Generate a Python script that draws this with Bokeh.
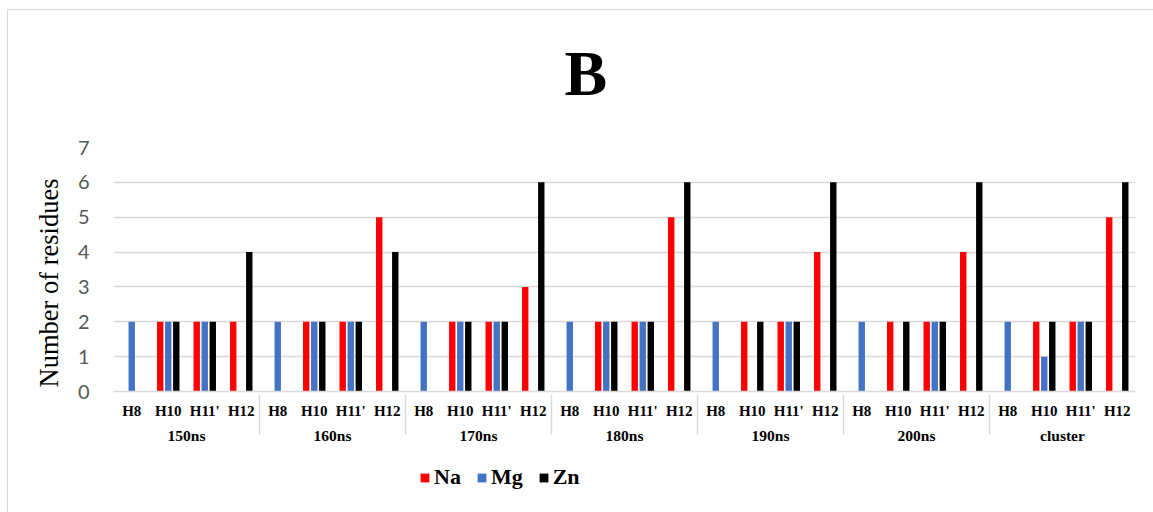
from bokeh.plotting import figure
from bokeh.layouts import column
from bokeh.models import (ColumnDataSource, FactorRange, Legend, LegendItem,
                          Title, InlineStyleSheet)
from bokeh.transform import dodge
from bokeh.embed import file_html
from bokeh.resources import INLINE

# Simulation snapshots and the helices examined in each
times = ["150ns", "160ns", "170ns", "180ns", "190ns", "200ns", "cluster"]
helices = ["H8", "H10", "H11'", "H12"]

# Number of residues per helix for each ion (ordered snapshot by snapshot)
na = [0, 2, 2, 2,  0, 2, 2, 5,  0, 2, 2, 3,  0, 2, 2, 5,  0, 2, 2, 4,  0, 2, 2, 4,  0, 2, 2, 5]
mg = [2, 2, 2, 0,  2, 2, 2, 0,  2, 2, 2, 0,  2, 2, 2, 0,  2, 0, 2, 0,  2, 0, 2, 0,  2, 1, 2, 0]
zn = [0, 2, 2, 4,  0, 2, 2, 4,  0, 2, 2, 6,  0, 2, 2, 6,  0, 2, 2, 6,  0, 2, 2, 6,  0, 2, 2, 6]

series = ["Na", "Mg", "Zn"]
colors = ["#ff0000", "#4472c4", "#000000"]

factors = [(t, h) for t in times for h in helices]
source = ColumnDataSource(data=dict(x=factors, Na=na, Mg=mg, Zn=zn))

SERIF = "Liberation Serif"

# Light frame around the chart area (left/top edges visible)
top_css = InlineStyleSheet(css="""
:host { overflow: hidden; }
:host::after {
  content: ""; position: absolute; left: 7px; top: 9px;
  width: 1300px; height: 800px;
  border: 1.5px solid #d9d9d9; pointer-events: none; z-index: 10;
}
""")
bottom_css = InlineStyleSheet(css="""
:host { overflow: hidden; }
:host::after {
  content: ""; position: absolute; left: 7px; top: -20px;
  width: 1300px; height: 800px;
  border: 1.5px solid #d9d9d9; pointer-events: none; z-index: 10;
}
""")

p = figure(
    x_range=FactorRange(*factors, range_padding=0, group_padding=0,
                        subgroup_padding=0, factor_padding=0),
    y_range=(0, 7),
    width=1153, height=462,
    min_border_left=113, min_border_right=18,
    min_border_top=136, min_border_bottom=71,
    output_backend="svg", toolbar_location=None,
    background_fill_color="white", border_fill_color="white",
    stylesheets=[top_css],
)
p.outline_line_color = None

p.add_layout(Title(text="B", align="left", offset=451, vertical_align="top",
                   text_font=SERIF, text_font_size="64px",
                   text_font_style="bold", text_color="black",
                   standoff=74), "above")

offsets = [-0.22, 0.0, 0.22]
renderers = []
for name, color, off in zip(series, colors, offsets):
    r = p.vbar(x=dodge("x", off, range=p.x_range), top=name, width=0.175,
               source=source, fill_color=color, line_color=None)
    renderers.append(r)

# Value axis
p.yaxis.ticker = list(range(0, 8))
p.yaxis.axis_line_color = None
p.yaxis.major_tick_line_color = None
p.yaxis.minor_tick_line_color = None
p.yaxis.major_label_text_font = "Lato"
p.yaxis.major_label_text_font_size = "20px"
p.yaxis.major_label_text_color = "#595959"
p.yaxis.major_label_standoff = 18

# Value-axis title, anchored near the bottom of the frame
p.add_layout(Title(text="Number of residues", align="left", offset=4,
                   text_font=SERIF, text_font_size="26.5px",
                   text_font_style="normal", text_color="black",
                   standoff=22), "left")

p.ygrid.grid_line_color = "#d9d9d9"
p.ygrid.grid_line_width = 1.5
p.xgrid.grid_line_color = None

# Two-level category axis
xa = p.xaxis[0]
xa.axis_line_color = "#d9d9d9"
xa.axis_line_width = 1.5
xa.major_tick_line_color = None
xa.minor_tick_line_color = None
xa.major_label_text_font = SERIF
xa.major_label_text_font_size = "15px"
xa.major_label_text_font_style = "bold"
xa.major_label_text_color = "black"
xa.major_label_standoff = 5
xa.group_text_font = SERIF
xa.group_text_font_size = "15.5px"
xa.group_text_font_style = "bold"
xa.group_text_color = "black"
xa.separator_line_color = "#d9d9d9"
xa.separator_line_width = 1.5

# Legend strip under the chart (swatch renderers have zero height)
leg = figure(
    width=1153, height=50, x_range=(0, 1), y_range=(0, 1),
    min_border=0, output_backend="svg", toolbar_location=None,
    background_fill_color="white", border_fill_color="white",
    stylesheets=[bottom_css],
)
leg.outline_line_color = None
leg.axis.visible = False
leg.grid.visible = False

swatch = ColumnDataSource(data=dict(x=[0.5], top=[0]))
items = []
for name, color in zip(series, colors):
    r = leg.vbar(x="x", top="top", bottom=0, width=0.1, source=swatch,
                 fill_color=color, line_color=None)
    items.append(LegendItem(label=name, renderers=[r]))

legend = Legend(
    items=items, orientation="horizontal", location=(306, 22),
    label_text_font=SERIF, label_text_font_size="22px",
    label_text_font_style="bold", label_text_color="black",
    label_height=20, glyph_width=11, glyph_height=11,
    spacing=15, label_standoff=4,
    border_line_color=None, background_fill_alpha=0, margin=0, padding=0,
)
leg.add_layout(legend, "center")

layout = column(p, leg, spacing=0)
open("out.html", "w").write(file_html(layout, INLINE))
